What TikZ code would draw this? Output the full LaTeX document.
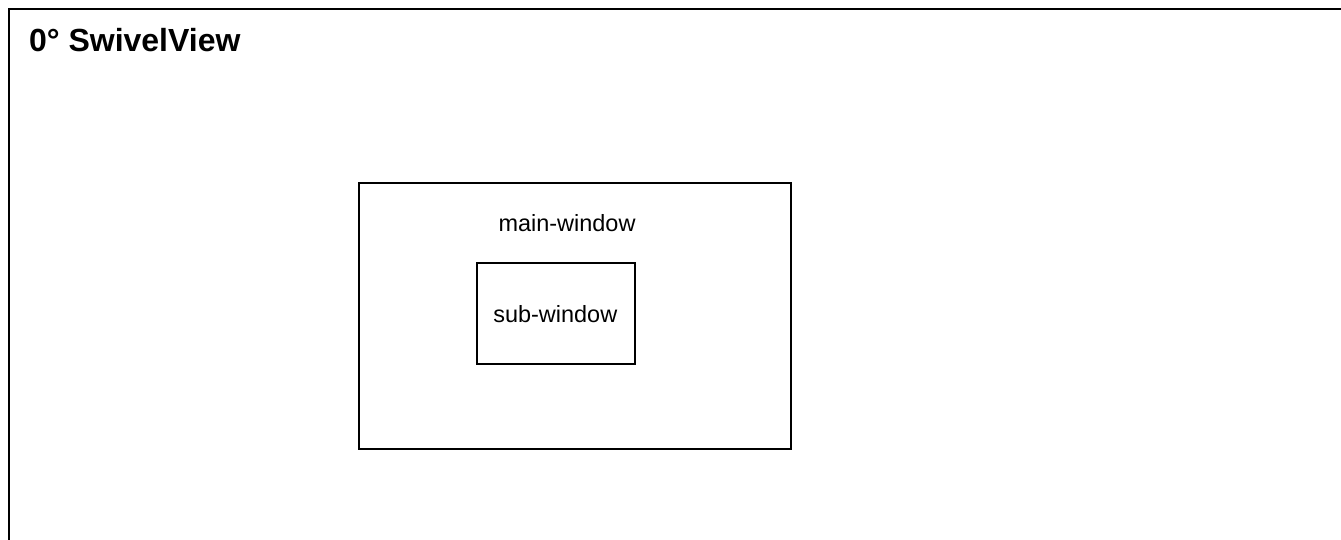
\documentclass[tikz,border=0pt]{standalone}
\usepackage{fontspec}
\setmainfont{Liberation Sans}
\begin{document}
\begin{tikzpicture}[x=0.75pt,y=-0.75pt,
  frame/.style={line width=1.65pt, line join=miter},
  winbox/.style={draw, line width=1.3pt, rectangle, inner sep=0pt, outer sep=0pt},
  lbl/.style={inner sep=0pt, font=\fontsize{17.6}{21}\selectfont},
  titlestyle/.style={inner sep=0pt, font=\fontsize{24}{28}\selectfont\bfseries}]
\useasboundingbox (0,0) rectangle (1341,539);
\coordinate (fbl) at (9,545);
\coordinate (ftl) at (9,9);
\coordinate (ftr) at (1347,9);
\draw[frame] (fbl) -- (ftl) -- (ftr);
\node[titlestyle, anchor=base west] (title) at (28.8,51.5) {0° SwivelView};
\node[winbox, minimum width=323.85pt, minimum height=199.6pt] (main) at (575.1,316.25) {};
\node[lbl, anchor=base] (mainlbl) at (567,231) {main-window};
\node[winbox, minimum width=118.4pt, minimum height=75.4pt] (sub) at (555.75,313.45) {};
\node[lbl, anchor=base] (sublbl) at (555.3,322.3) {sub-window};
\end{tikzpicture}
\end{document}
